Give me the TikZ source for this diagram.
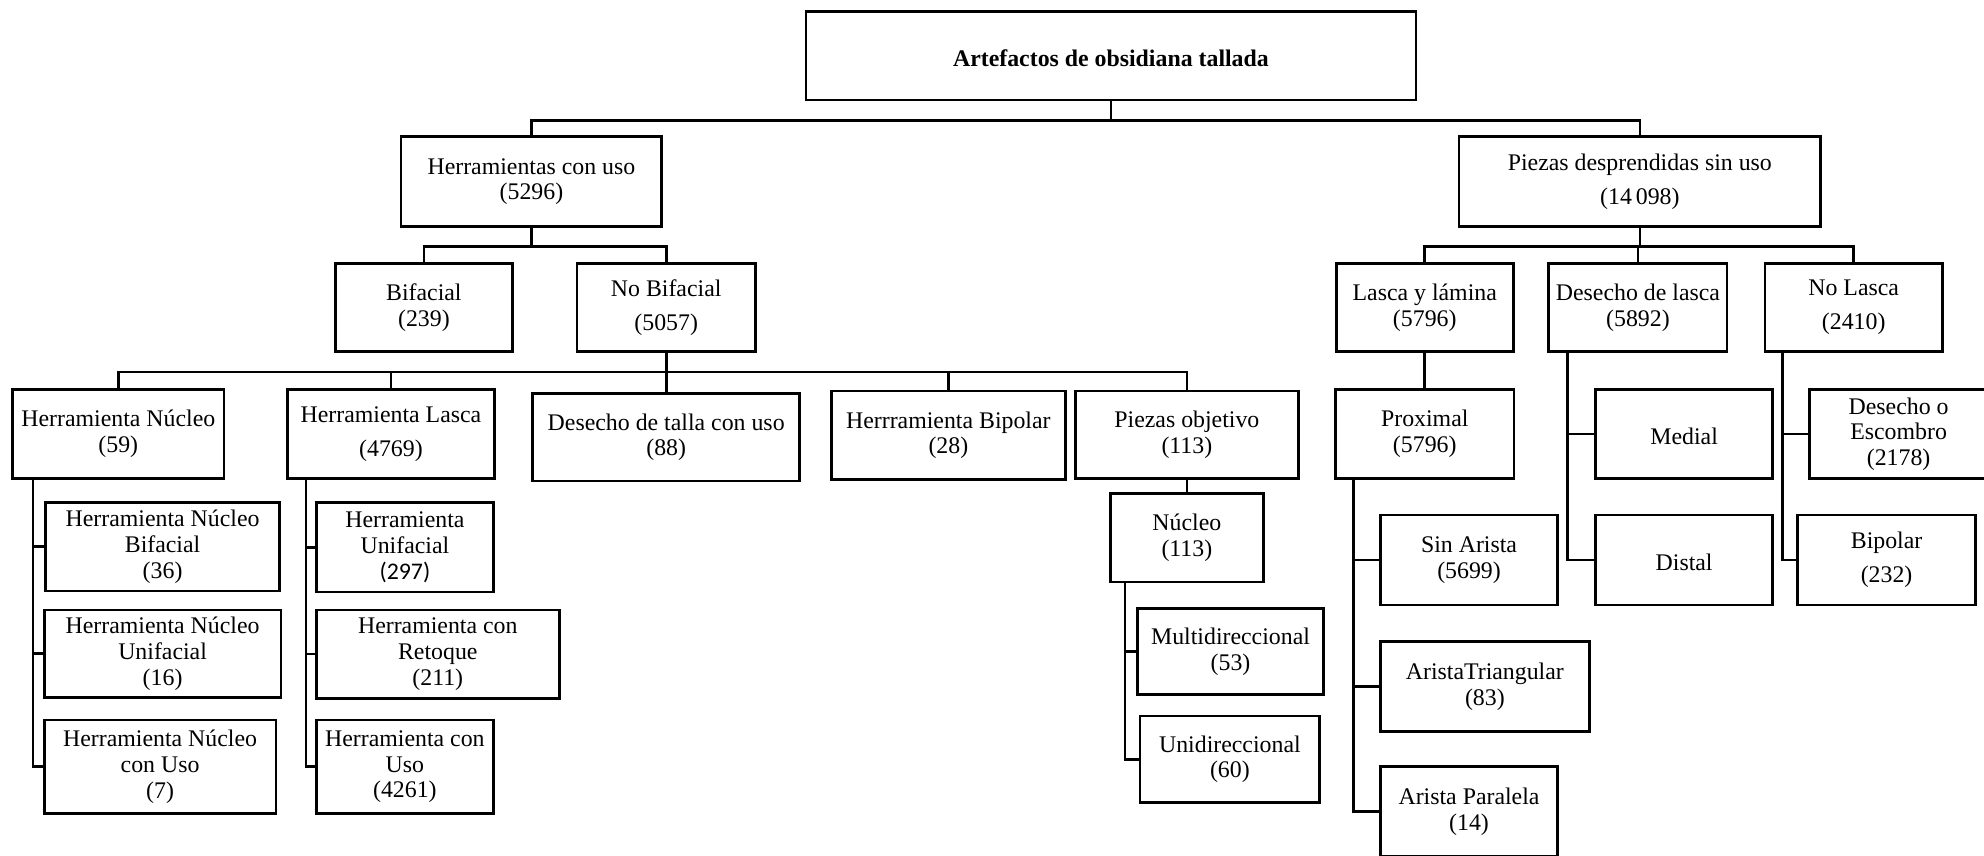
\documentclass[tikz,border=0pt]{standalone}
\usepackage{fontspec}
\setmainfont{Liberation Serif}
\newfontfamily\calib{Carlito}
\begin{document}
\begin{tikzpicture}[x=0.6pt,y=-0.6pt,
  box/.style 2 args={draw, line width=1.25pt, inner sep=0pt, align=center,
    minimum width=#1*0.6pt, minimum height=#2*0.6pt,
    font=\fontsize{11.3}{12.2}\selectfont,
    execute at begin node={\rule{0pt}{10.5pt}}},
  conn/.style={line width=1.25pt}]
\useasboundingbox (0,0) rectangle (1568,676);
\clip (0,0) rectangle (1568,676);
% level 0
\node[box={482}{70}, font=\fontsize{11.3}{12.2}\selectfont\bfseries] (title) at (878,44) {Artefactos de obsidiana tallada};
% level 1
\node[box={206}{71}] (hcu) at (420,143.5) {Herramientas con uso\\(5296)};
\node[box={286}{71}] (pds) at (1296,143.5) {Piezas desprendidas sin uso\\[4pt](14\,098)};
% level 2 left
\node[box={140}{70}] (bif) at (335,243) {Bifacial\\(239)};
\node[box={141}{70}] (nbif) at (526.5,243) {No Bifacial\\[4pt](5057)};
% level 2 right
\node[box={140}{70}] (lyl) at (1126,243) {Lasca y lámina\\(5796)};
\node[box={141}{70}] (ddl) at (1294.5,243) {Desecho de lasca\\(5892)};
\node[box={140}{70}] (nl) at (1465,243) {No Lasca\\[4pt](2410)};
% level 3 left
\node[box={167}{70}] (hn) at (93.5,343) {Herramienta Núcleo\\(59)};
\node[box={164}{70}] (hl) at (309,343) {Herramienta Lasca\\[4pt](4769)};
\node[box={211}{69}] (dtu) at (526.5,345.5) {Desecho de talla con uso\\(88)};
\node[box={185}{70}] (hbip) at (749.5,344) {Herrramienta Bipolar\\(28)};
\node[box={176}{69}] (pobj) at (938,343.5) {Piezas objetivo\\(113)};
% level 3 right
\node[box={141}{70}] (prox) at (1126,343) {Proximal\\(5796)};
\node[box={140}{70}] (med) at (1331,343) {Medial};
\node[box={141}{70}] (deo) at (1500.5,343) {Desecho o\\Escombro\\(2178)};
% children of Herramienta Nucleo
\node[box={185}{70}] (hnb) at (128.5,432) {Herramienta Núcleo\\Bifacial\\(36)};
\node[box={187}{69}] (hnu) at (128.5,516.5) {Herramienta Núcleo\\Unifacial\\(16)};
\node[box={183}{74}] (hncu) at (126.5,606) {Herramienta Núcleo\\con Uso\\(7)};
% children of Herramienta Lasca
\node[box={140}{71}] (hun) at (320,432.5) {Herramienta\\Unifacial\\{\calib (297)}};
\node[box={192}{70}] (hret) at (346,517) {Herramienta con\\Retoque\\(211)};
\node[box={140}{74}] (huso) at (320,606) {Herramienta con\\Uso\\(4261)};
% nucleo
\node[box={121}{70}] (nuc) at (938,425) {Núcleo\\(113)};
\node[box={147}{68}] (multi) at (972.5,515) {Multidireccional\\(53)};
\node[box={142}{68}] (uni) at (972,600) {Unidireccional\\(60)};
% proximal children
\node[box={140}{71}] (sina) at (1161,442.5) {Sin Arista\\(5699)};
\node[box={165}{71}] (atri) at (1173.5,542.5) {AristaTriangular\\(83)};
\node[box={140}{71}] (apar) at (1161,641.5) {Arista Paralela\\(14)};
% others
\node[box={140}{71}] (dist) at (1331,442.5) {Distal};
\node[box={141}{71}] (bip) at (1491,442.5) {Bipolar\\[4pt](232)};
% connectors
\draw[conn] (title.south) -- ++(0,15) -| (hcu.north);
\draw[conn] (title.south) -- ++(0,15) -| (pds.north);
\draw[conn] (hcu.south) -- ++(0,15) -| (bif.north);
\draw[conn] (hcu.south) -- ++(0,15) -| (nbif.north);
\draw[conn] (pds.south) -- ++(0,15) -| (lyl.north);
\draw[conn] (pds.south) -- ++(0,15) -| (ddl.north);
\draw[conn] (pds.south) -- ++(0,15) -| (nl.north);
\draw[conn] (nbif.south) -- ++(0,15) -| (hn.north);
\draw[conn] (nbif.south) -- ++(0,15) -| (hl.north);
\draw[conn] (nbif.south) -- ++(0,15) -| (dtu.north);
\draw[conn] (nbif.south) -- ++(0,15) -| (hbip.north);
\draw[conn] (nbif.south) -- ++(0,15) -| (pobj.north);
\draw[conn] (pobj.south) -- (nuc.north);
\draw[conn] (lyl.south) -- (prox.north);
\draw[conn] (hn.south west) ++(17,0) |- (hnb.west);
\draw[conn] (hn.south west) ++(17,0) |- (hnu.west);
\draw[conn] (hn.south west) ++(17,0) |- (hncu.west);
\draw[conn] (hl.south west) ++(16,0) |- (hun.west);
\draw[conn] (hl.south west) ++(16,0) |- (hret.west);
\draw[conn] (hl.south west) ++(16,0) |- (huso.west);
\draw[conn] (nuc.south west) ++(12.5,0) |- (multi.west);
\draw[conn] (nuc.south west) ++(12.5,0) |- (uni.west);
\draw[conn] (prox.south west) ++(15,0) |- (sina.west);
\draw[conn] (prox.south west) ++(15,0) |- (atri.west);
\draw[conn] (prox.south west) ++(15,0) |- (apar.west);
\draw[conn] (ddl.south west) ++(16,0) |- (med.west);
\draw[conn] (ddl.south west) ++(16,0) |- (dist.west);
\draw[conn] (nl.south west) ++(15,0) |- (deo.west);
\draw[conn] (nl.south west) ++(15,0) |- (bip.west);
\end{tikzpicture}
\end{document}
